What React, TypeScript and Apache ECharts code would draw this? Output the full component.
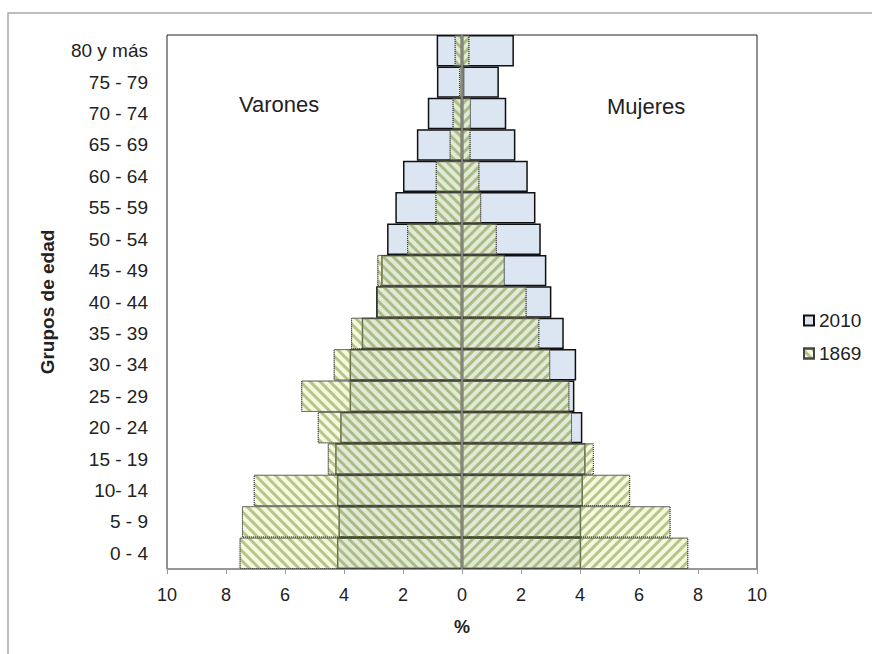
import React, { useEffect, useRef } from "react";
import * as echarts from "echarts";

const categories = [
  "0 - 4", "5 - 9", "10- 14", "15 - 19", "20 - 24", "25 - 29", "30 - 34", "35 - 39",
  "40 - 44", "45 - 49", "50 - 54", "55 - 59", "60 - 64", "65 - 69", "70 - 74", "75 - 79", "80 y más",
];
// percentages, bottom (0-4) to top (80 y más)
const varones2010 = [4.24, 4.19, 4.24, 4.3, 4.13, 3.81, 3.81, 3.4, 2.91, 2.74, 2.54, 2.26, 2.0, 1.53, 1.16, 0.85, 0.86];
const mujeres2010 = [4.04, 4.04, 4.1, 4.19, 4.08, 3.81, 3.87, 3.45, 3.03, 2.86, 2.67, 2.49, 2.23, 1.81, 1.5, 1.25, 1.76];
const varones1869 = [7.54, 7.46, 7.06, 4.55, 4.89, 5.45, 4.35, 3.76, 2.88, 2.87, 1.86, 0.9, 0.89, 0.42, 0.32, 0.1, 0.25];
const mujeres1869 = [7.67, 7.07, 5.7, 4.47, 3.73, 3.64, 2.99, 2.62, 2.19, 1.45, 1.18, 0.65, 0.59, 0.29, 0.3, 0.08, 0.25];
const xTicks = { min: -10, max: 10, interval: 2 };

export default function App() {
  const ref = useRef<HTMLDivElement>(null);
  useEffect(() => {
    if (!ref.current) return;
    const chart = echarts.init(ref.current, null, { renderer: "svg" });
    const font = "Liberation Sans, Arial, sans-serif";
    const style2010 = {
      color: "#dce5f2",
      borderColor: "#111",
      borderWidth: 1.5,
    };
    const style1869 = (rot: number) => ({
      color: "rgba(232,242,170,0.4)",
      borderColor: "#444",
      borderWidth: 1,
      borderType: "dotted" as const,
      decal: {
        symbol: "rect",
        symbolSize: 1,
        dashArrayX: [1, 0],
        dashArrayY: [2.2, 3.6],
        rotation: rot,
        color: "rgba(120,142,60,0.5)",
      },
    });
    chart.setOption({
      animation: false,
      backgroundColor: "#fff",
      textStyle: { fontFamily: font },
      graphic: [
        {
          type: "rect",
          shape: { x: 8, y: 13, width: 900, height: 700 },
          style: { fill: "none", stroke: "#a8a8a8", lineWidth: 1.5 },
          silent: true,
        },
        {
          type: "text",
          left: 239,
          top: 93,
          style: { text: "Varones", fontSize: 22, fill: "#222", fontFamily: font },
        },
        {
          type: "text",
          left: 607,
          top: 95,
          style: { text: "Mujeres", fontSize: 22, fill: "#222", fontFamily: font },
        },
      ],
      legend: {
        orient: "vertical",
        left: 798,
        top: 306,
        icon: "rect",
        itemWidth: 10,
        itemHeight: 10,
        itemGap: 14,
        data: ["2010", "1869"],
        textStyle: { fontSize: 19, color: "#222", fontFamily: font },
      },
      grid: {
        left: 167,
        right: 115,
        top: 35,
        bottom: 85,
        show: true,
        borderColor: "#222",
        borderWidth: 1,
        containLabel: false,
      },
      xAxis: {
        type: "value",
        min: xTicks.min,
        max: xTicks.max,
        interval: xTicks.interval,
        name: "%",
        nameLocation: "middle",
        nameGap: 49,
        nameTextStyle: { fontWeight: "bold", fontSize: 18, color: "#222" },
        axisLine: { show: true, lineStyle: { color: "#999", width: 1.5 } },
        axisTick: { show: true, length: 5, lineStyle: { color: "#999" } },
        axisLabel: {
          formatter: (v: number) => String(Math.abs(v)),
          fontSize: 18,
          color: "#222",
          margin: 17,
        },
        splitLine: { show: false },
      },
      yAxis: {
        type: "category",
        data: categories,
        name: "Grupos de edad",
        nameLocation: "middle",
        nameRotate: 90,
        nameGap: 110,
        nameTextStyle: { fontWeight: "bold", fontSize: 19, color: "#222" },
        axisLine: { show: false, onZero: false },
        axisTick: { show: false },
        axisLabel: { fontSize: 19, color: "#222", margin: 19 },
      },
      series: [
        {
          name: "2010",
          type: "bar",
          stack: "s2010",
          data: varones2010.map((v) => -v),
          barCategoryGap: 0,
          barGap: "-100%",
          itemStyle: style2010,
        },
        {
          name: "2010",
          type: "bar",
          stack: "s2010",
          data: mujeres2010,
          barCategoryGap: 0,
          barGap: "-100%",
          itemStyle: style2010,
        },
        {
          name: "1869",
          type: "bar",
          stack: "s1869",
          data: varones1869.map((v) => -v),
          barCategoryGap: 0,
          barGap: "-100%",
          itemStyle: style1869(Math.PI / 4),
        },
        {
          name: "1869",
          type: "bar",
          stack: "s1869",
          data: mujeres1869,
          barCategoryGap: 0,
          barGap: "-100%",
          itemStyle: style1869(-Math.PI / 4),
          markLine: {
            silent: true,
            symbol: "none",
            label: { show: false },
            lineStyle: { color: "#9a9a9a", type: "solid", width: 1.5 },
            data: [{ xAxis: 0 }],
          },
        },
      ],
    });
    return () => chart.dispose();
  }, []);
  return (
    <div
      ref={ref}
      style={{ position: "fixed", left: 0, top: 0, width: 872, height: 654 }}
    />
  );
}
